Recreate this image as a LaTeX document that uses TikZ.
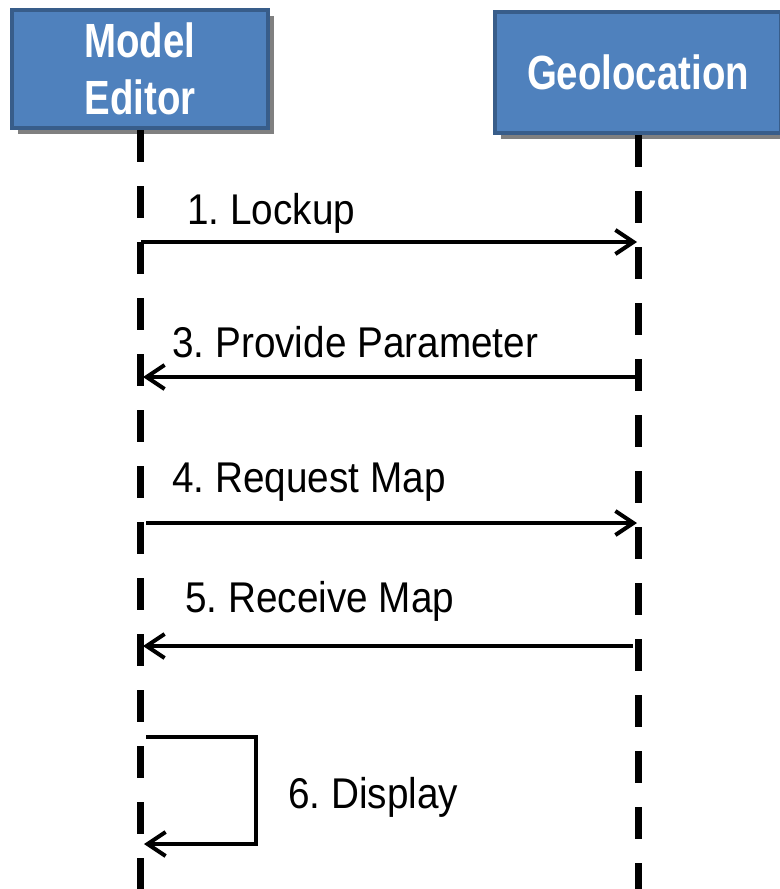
\documentclass[tikz,border=0pt]{standalone}
\usepackage{fontspec}
\setmainfont{Liberation Sans}
\newfontfamily\headfont[FakeStretch=0.8]{Liberation Sans Bold}
\newfontfamily\msgfont[FakeStretch=0.9]{Liberation Sans}
\usetikzlibrary{arrows.meta,shadows}
\frenchspacing

\definecolor{actorfill}{HTML}{4F81BD}
\definecolor{actorline}{HTML}{385D8A}
\definecolor{shadowgray}{HTML}{808080}

\begin{document}
\begin{tikzpicture}[x=0.5pt, y=-0.5pt,
  actor/.style={draw=actorline, line width=2pt, fill=actorfill, text=white,
                font=\headfont\fontsize{24}{28.5}\selectfont, align=center, inner sep=0pt,
                drop shadow={shadow xshift=3pt, shadow yshift=-3pt, fill=shadowgray, opacity=1}},
  life/.style={line width=3.5pt, dash pattern=on 16pt off 12pt},
  msg/.style={line width=2pt, -{Straight Barb[length=9pt, width=12pt, line width=2pt]}},
  lbl/.style={font=\msgfont\fontsize{21.5}{24}\selectfont, anchor=base west, inner sep=0pt}]
\useasboundingbox (0,0) rectangle (780,889);

% lifeline heads
\node[actor, minimum width=128pt, minimum height=59pt] (editor) at (140,69) {Model\\Editor};
\node[actor, minimum width=143pt, minimum height=60.5pt] (geo) at (638,72.5) {Geolocation};
\coordinate (editorend) at (140,889);
\coordinate (geoend) at (638,889);
\draw[life] (editor.south) -- (editorend);
\draw[life] (geo.south) -- (geoend);

% message ends on the lifelines
\coordinate (e1) at (141,242);  \coordinate (g1) at (637,242);
\coordinate (e3) at (143,377);  \coordinate (g3) at (638,377);
\coordinate (e4) at (146,523);  \coordinate (g4) at (637,523);
\coordinate (e5) at (143,646);  \coordinate (g5) at (633,646);

\draw[msg] (e1) -- (g1);
\draw[msg] (g3) -- (e3);
\draw[msg] (e4) -- (g4);
\draw[msg] (g5) -- (e5);
\node[lbl] (lookup) at (187,224) {1. Lockup};
\node[lbl] (provide) at (172,357) {3. Provide Parameter};
\node[lbl] (request) at (172,492) {4. Request Map};
\node[lbl] (receive) at (185,612) {5. Receive Map};

% self call
\coordinate (s1) at (146,737);
\coordinate (s2) at (256,737);
\coordinate (s3) at (256,844);
\coordinate (s4) at (144,844);
\draw[msg] (s1) -- (s2) -- (s3) -- (s4);
\node[lbl] (display) at (288,808) {6. Display};
\end{tikzpicture}
\end{document}
